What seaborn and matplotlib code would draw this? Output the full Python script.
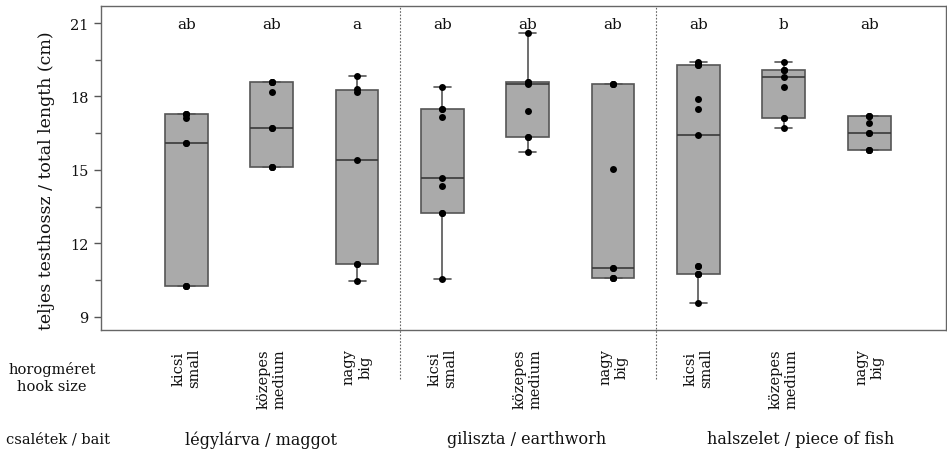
import numpy as np
import pandas as pd
import seaborn as sns
import matplotlib.pyplot as plt
from matplotlib.ticker import MultipleLocator

sns.set_theme(style="ticks")
plt.rcParams['font.family'] = ['DejaVu Serif', 'DejaVu Sans']

# ---- data ----
baits = ["légylárva / maggot", "giliszta / earthworh", "halszelet / piece of fish"]
hook_hu = ["kicsi", "közepes", "nagy"]
hook_en = ["small", "medium", "big"]
letters = ["ab", "ab", "a", "ab", "ab", "ab", "ab", "b", "ab"]

maggot_small = [10.25, 10.25, 10.25, 16.1, 16.1, 17.1, 17.3, 17.3, 17.3]
maggot_medium = [15.1, 15.1, 15.1, 16.7, 16.7, 18.2, 18.6, 18.6, 18.6]
maggot_big = [10.45, 11.15, 11.15, 15.4, 18.2, 18.3, 18.85]
worm_small = [10.55, 13.25, 13.25, 14.35, 14.65, 17.15, 17.5, 17.5, 18.4]
worm_medium = [15.72, 16.33, 16.33, 17.4, 18.5, 18.55, 18.6, 18.6, 20.6]
worm_big = [10.58, 10.58, 10.58, 10.98, 10.98, 15.02, 18.49, 18.49, 18.49]
fish_small = [9.54, 10.76, 10.76, 10.76, 11.07, 11.07, 16.43, 17.47, 17.88,
              19.29, 19.3, 19.35, 19.39]
fish_medium = [16.73, 17.12, 17.12, 18.37, 18.8, 19.08, 19.08, 19.08, 19.39]
fish_big = [15.82, 15.82, 15.82, 16.51, 16.51, 16.9, 17.22, 17.22, 17.22]

series = [maggot_small, maggot_medium, maggot_big,
          worm_small, worm_medium, worm_big,
          fish_small, fish_medium, fish_big]

order = [f"{b}|{h}" for b in baits for h in hook_hu]
rows = []
for key, vals in zip(order, series):
    for v in vals:
        rows.append({"group": key, "length": v})
df = pd.DataFrame(rows)

tick_labels = [f"{hu}\n{en}" for _ in baits for hu, en in zip(hook_hu, hook_en)]

# ---- figure ----
W, H = 947, 452
fig = plt.figure(figsize=(W / 100, H / 100), dpi=100)
ax = fig.add_axes([101 / W, 1 - 331 / H, 845 / W, 324 / H])

edge = "#555555"
sns.boxplot(data=df, x="group", y="length", order=order, color="#aaaaaa",
            saturation=1, width=0.5, linecolor=edge, linewidth=1.2,
            fliersize=0, medianprops={"color": "#3a3a3a", "linewidth": 1.2},
            capwidths=0.2, ax=ax)
sns.stripplot(data=df, x="group", y="length", order=order, color="black",
              jitter=False, size=5, ax=ax, zorder=5)

ax.set_xlim(-1.0, 8.9)
ax.set_ylim(8.45, 21.7)

# letters
for i, t in enumerate(letters):
    ax.text(i, 20.95, t, ha="center", va="center", fontsize=11, color="#111111")

# dividers
for xv in (2.5, 5.5):
    ax.axvline(xv, ymin=-0.15, ymax=1, color="#666666", lw=0.8,
               ls=(0, (1.5, 1.5)), clip_on=False)

# ticks
ax.set_xticks(range(len(order)))
ax.set_xticklabels(tick_labels, rotation=90, fontsize=10.5, ha="center",
                   va="top", multialignment="center")
ax.tick_params(axis="x", length=0, pad=13, colors="#111111")
ax.yaxis.set_minor_locator(MultipleLocator(1.5))
ax.set_yticks([9, 12, 15, 18, 21])
ax.tick_params(axis="y", which="major", length=5, width=1, color=edge,
               labelsize=10.5, labelcolor="#111111", pad=4, left=True)
ax.tick_params(axis="y", which="minor", length=4, width=1, color=edge, left=True)

ax.set_xlabel("")
ax.set_ylabel("teljes testhossz / total length (cm)", fontsize=12.5, color="#111111")
ax.yaxis.set_label_coords(-0.055, 0.465)

for s in ax.spines.values():
    s.set_color("#666666")
    s.set_linewidth(1.0)
    s.set_visible(True)

# bottom labels
fig.text(52 / W, 1 - 378 / H, "horogméret\nhook size", ha="center", va="center",
         fontsize=10.5, multialignment="center", color="#111111")
fig.text(58 / W, 1 - 440 / H, "csalétek / bait", ha="center", va="center",
         fontsize=10.5, color="#111111")
for xd, lab in zip((0.87, 3.99, 7.2), baits):
    xp = 101 + (xd + 1.0) / 9.9 * 845
    fig.text(xp / W, 1 - 440 / H, lab, ha="center", va="center",
             fontsize=11.5, color="#111111")

fig.savefig("out.png", dpi=100)
